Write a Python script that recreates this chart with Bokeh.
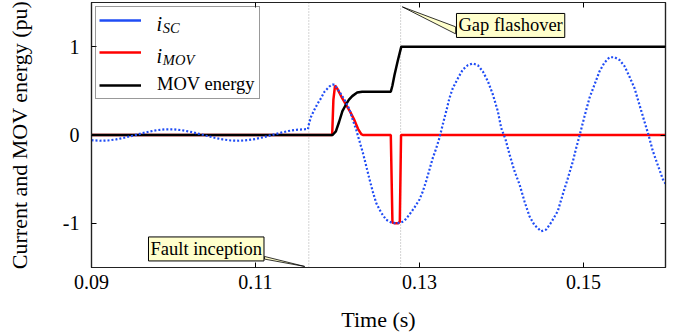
from bokeh.plotting import figure
from bokeh.models import Legend, LegendItem, LinearAxis, FixedTicker, Span, Label
from bokeh.core.properties import value
from bokeh.embed import file_html
from bokeh.resources import INLINE

# ---------------- data ----------------
x_ticks = [0.09, 0.11, 0.13, 0.15]
x_tick_labels = ["0.09", "0.11", "0.13", "0.15"]
y_ticks = [-1, 0, 1]
y_tick_labels = ["-1", "0", "1"]

# short-circuit current i_SC (pu)
t_sc = [0.090, 0.091, 0.092, 0.093, 0.094, 0.095, 0.096, 0.097, 0.098, 0.099,
        0.100, 0.101, 0.102, 0.103, 0.104, 0.105, 0.106, 0.107, 0.108, 0.109,
        0.110, 0.111, 0.112, 0.113, 0.114, 0.115, 0.116, 0.1164,
        0.11655, 0.11679, 0.11720, 0.11760, 0.11801, 0.11841, 0.11902, 0.11939,
        0.11963, 0.12024, 0.12085, 0.12146, 0.12187, 0.12228, 0.12268, 0.12309,
        0.12350, 0.12390, 0.12430, 0.12472, 0.12533, 0.12594, 0.12655, 0.12716,
        0.12777, 0.12817, 0.12878, 0.12939, 0.13000, 0.13040, 0.13082, 0.13122,
        0.13162, 0.13204, 0.13244, 0.13284, 0.13326, 0.13366, 0.13406, 0.13467,
        0.13528, 0.13589, 0.13650, 0.13711, 0.13772, 0.13833, 0.13894, 0.13955,
        0.13996, 0.14049, 0.14098, 0.14159, 0.14220, 0.14280, 0.14341, 0.14402,
        0.14484, 0.14545, 0.14606, 0.14687, 0.14748, 0.14809, 0.14870, 0.14910,
        0.14951, 0.15012, 0.15073, 0.15134, 0.15195, 0.15256, 0.15317, 0.15378,
        0.15439, 0.15500, 0.15561, 0.15622, 0.15683, 0.15744, 0.15793, 0.15845,
        0.15906, 0.15967, 0.16000]
i_sc = [-0.059, -0.065, -0.062, -0.050, -0.031, -0.008, 0.016, 0.038, 0.055, 0.064,
        0.064, 0.055, 0.038, 0.016, -0.008, -0.031, -0.050, -0.062, -0.065, -0.059,
        -0.045, -0.024, 0.000, 0.024, 0.045, 0.059, 0.065, 0.066,
        0.14, 0.21, 0.29, 0.36, 0.42, 0.49, 0.55, 0.57,
        0.57, 0.49, 0.40, 0.29, 0.17, 0.06, -0.07, -0.20,
        -0.35, -0.50, -0.64, -0.77, -0.88, -0.96, -0.99, -1.00,
        -0.99, -0.97, -0.90, -0.82, -0.73, -0.64, -0.52, -0.39,
        -0.26, -0.15, -0.03, 0.12, 0.27, 0.42, 0.53, 0.64,
        0.74, 0.79, 0.81, 0.79, 0.72, 0.61, 0.46, 0.27,
        0.08, -0.05, -0.22, -0.41, -0.56, -0.75, -0.92, -1.02,
        -1.09, -1.07, -0.99, -0.86, -0.67, -0.49, -0.30, -0.15,
        -0.01, 0.21, 0.42, 0.57, 0.72, 0.82, 0.88, 0.88,
        0.85, 0.78, 0.66, 0.53, 0.34, 0.15, 0.00, -0.18,
        -0.34, -0.50, -0.55]

# MOV current i_MOV (pu)
t_mov = [0.090, 0.11935, 0.11950, 0.11970, 0.12000, 0.12050, 0.12100, 0.12150,
         0.12200, 0.12250, 0.12290, 0.12310, 0.12650, 0.12670, 0.12700, 0.12740,
         0.12760, 0.12775, 0.160]
i_mov = [0, 0, 0.40, 0.56, 0.52, 0.43, 0.35, 0.27,
         0.18, 0.07, 0.01, 0, 0, -0.99, -1.00, -1.00,
         -0.98, 0, 0]

# MOV energy (pu)
t_e = [0.090, 0.11940, 0.11980, 0.12020, 0.12060, 0.12100, 0.12140, 0.12180,
       0.12240, 0.12300, 0.12650, 0.12670, 0.12695, 0.12735, 0.12778, 0.160]
e_mov = [0, 0, 0.04, 0.15, 0.27, 0.34, 0.40, 0.44,
         0.48, 0.49, 0.49, 0.56, 0.68, 0.84, 1.0, 1.0]

event_times = [0.1165, 0.1277]          # fault inception, gap flashover
event_names = ["Fault inception", "Gap flashover"]
legend_main = ["i", "i", "MOV energy"]
legend_sub = ["SC", "MOV"]

# ---------------- styling ----------------
FONT = "Liberation Serif"
BLUE = "#1f4cf5"
RED = "#ff0000"
BLACK = "#000000"
NOTE_BG = "#ffffcc"

p = figure(frame_width=574, frame_height=265,
           x_range=(0.09, 0.16), y_range=(-1.5, 1.5),
           output_backend="svg", toolbar_location=None,
           min_border_left=91, min_border_right=8, min_border_top=2,
           min_border_bottom=2)
p.grid.visible = False
p.outline_line_color = "#222222"
p.outline_line_width = 1.2
p.background_fill_color = "white"
p.border_fill_color = "white"

for ax, ticks, labels in ((p.xaxis[0], x_ticks, x_tick_labels),
                          (p.yaxis[0], y_ticks, y_tick_labels)):
    ax.ticker = FixedTicker(ticks=ticks)
    ax.major_label_overrides = dict(zip(ticks, labels))
    ax.major_label_text_font = FONT
    ax.major_label_text_font_size = "20px"
    ax.major_label_text_color = "black"
    ax.axis_label_text_font = FONT
    ax.axis_label_text_font_size = "22px"
    ax.axis_label_text_font_style = "normal"
    ax.axis_label_text_color = "black"
    ax.major_tick_in = 5
    ax.major_tick_out = 0
    ax.minor_tick_line_color = None
    ax.axis_line_color = "#222222"
    ax.axis_line_width = 1.2
    ax.major_tick_line_color = "black"

p.xaxis.axis_label = "Time (s)"
p.xaxis.major_label_standoff = 7
p.xaxis.axis_label_standoff = 15
p.yaxis.axis_label = "Current and MOV energy (pu)"
p.yaxis.major_label_standoff = 12
p.yaxis.axis_label_standoff = 28

for ticks, side in ((x_ticks, "above"), (y_ticks, "right")):
    a = LinearAxis(ticker=FixedTicker(ticks=ticks),
                   major_label_text_font_size="0px", major_label_standoff=0,
                   major_tick_in=5, major_tick_out=0,
                   minor_tick_line_color=None,
                   axis_line_color="#222222", axis_line_width=1.2,
                   major_tick_line_color="black")
    p.add_layout(a, side)

# event markers
for t in event_times:
    p.add_layout(Span(location=t, dimension="height", line_color="#a8a8a8",
                      line_dash="1 2", line_width=1, level="underlay"))

# data curves
r_mov = p.line(t_mov, i_mov, line_color=RED, line_width=2.5)
r_e = p.line(t_e, e_mov, line_color=BLACK, line_width=2.5)
p.line(t_sc, i_sc, line_color=BLUE, line_width=2.2, line_dash="2 2")
# solid swatch for the i_SC legend entry (a single point draws no line in the plot)
sw_sc = p.line(t_sc[:1], i_sc[:1], line_color=BLUE, line_width=2.5)

# italic labels with subscripts (legend box is transparent so these show)
p.text(x=[0.09793, 0.09793], y=[1.262, 0.900], text=legend_main[:2],
       text_font=value(FONT), text_font_style="italic",
       text_font_size=value("20px"), text_baseline="alphabetic",
       text_align="left", text_color="black")
p.text(x=[0.09870, 0.09870], y=[1.212, 0.850], text=legend_sub,
       text_font=value(FONT), text_font_style="italic",
       text_font_size=value("14.5px"), text_baseline="alphabetic",
       text_align="left", text_color="black")

legend = Legend(items=[LegendItem(label=value(" "), renderers=[sw_sc]),
                       LegendItem(label=value(" "), renderers=[r_mov]),
                       LegendItem(label=value(legend_main[2]), renderers=[r_e])],
                location="top_left", margin=4, padding=3, spacing=12,
                glyph_width=42, glyph_height=20, label_height=20,
                label_width=99, label_standoff=16,
                label_text_font=FONT, label_text_font_size="18.5px",
                label_text_color="black",
                border_line_color="#333333", border_line_width=1,
                background_fill_color="white", background_fill_alpha=0)
p.add_layout(legend)

# callouts
fault_t, flash_t = event_times
p.patch([flash_t + 0.0002, 0.1344, 0.1344], [1.451, 1.225, 1.145],
        fill_color=NOTE_BG, line_color="black", line_width=0.8)
p.patch([fault_t - 0.0005, 0.1111, 0.1111], [-1.488, -1.375, -1.405],
        fill_color=NOTE_BG, line_color="black", line_width=0.8)

for txt, x, y in ((event_names[1], 0.13451, 1.24),
                  (event_names[0], 0.09695, -1.29)):
    p.add_layout(Label(x=x, y=y, text=txt, text_font=FONT,
                       text_font_size="18.5px", text_color="black",
                       text_align="left", text_baseline="middle",
                       background_fill_color=NOTE_BG, background_fill_alpha=1,
                       border_line_color="black", border_line_width=1,
                       padding=2))

open("out.html", "w").write(file_html(p, INLINE))
